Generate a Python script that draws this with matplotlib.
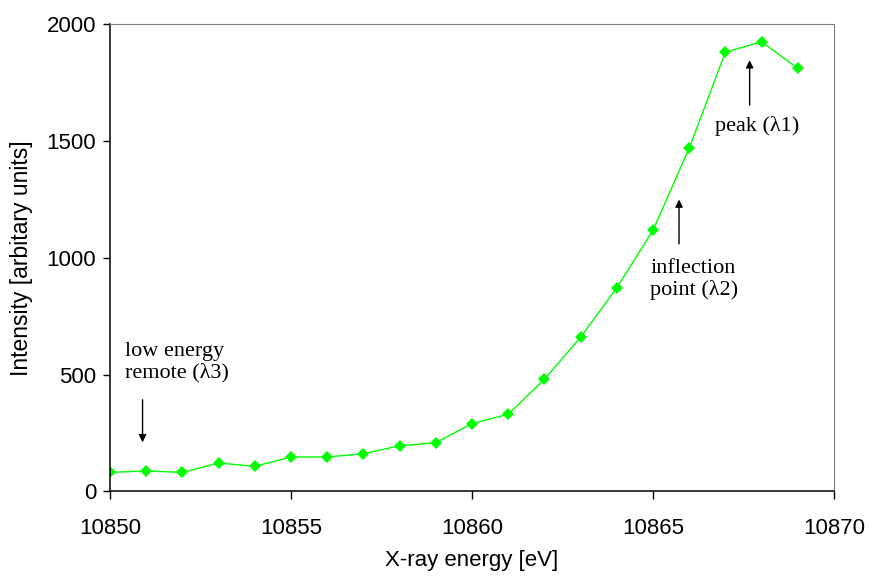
import matplotlib.pyplot as plt

# XANES edge scan: intensity vs. X-ray energy
energy = list(range(10850, 10870))
intensity = [81, 87, 81, 121, 107, 147, 147, 161, 195, 208,
             290, 330, 480, 660, 872, 1118, 1470, 1881, 1926, 1812]

x_ticks = [10850, 10855, 10860, 10865, 10870]
y_ticks = [0, 500, 1000, 1500, 2000]

SANS = ['Liberation Sans', 'DejaVu Sans']
SERIF = ['Liberation Serif', 'DejaVu Serif']

fig = plt.figure(figsize=(8.7, 5.79), dpi=100)
ax = fig.add_axes([0.1264, 0.1515, 0.8322, 0.8062])

ax.plot(energy, intensity, color='#00ff00', linewidth=1.0,
        marker='D', markersize=6.5, markeredgewidth=0)

ax.set_xlim(10850, 10870)
ax.set_ylim(0, 2000)
ax.set_xticks(x_ticks)
ax.set_yticks(y_ticks)
ax.set_xticklabels([str(t) for t in x_ticks], family=SANS, fontsize=16)
ax.set_yticklabels([str(t) for t in y_ticks], family=SANS, fontsize=16)
ax.tick_params(axis='x', direction='out', length=6, width=1, pad=13)
ax.tick_params(axis='y', direction='out', length=5, width=1, pad=5)

ax.set_xlabel('X-ray energy [eV]', family=SANS, fontsize=16, labelpad=8)
ax.set_ylabel('Intensity [arbitary units]', family=SANS, fontsize=16.5, labelpad=10)

for side in ['top', 'right']:
    ax.spines[side].set_color('#808080')
for side in ['left', 'bottom']:
    ax.spines[side].set_color('black')
    ax.spines[side].set_linewidth(1.1)

arrow = dict(arrowstyle='-|>', color='black', lw=1.0, mutation_scale=11)

# low energy remote point
ax.annotate('', xy=(10850.9, 198), xytext=(10850.9, 404), arrowprops=arrow)
ax.text(10850.41, 640, 'low energy\nremote (\u03bb3)', family=SERIF, fontsize=16,
        ha='left', va='top', linespacing=1.15)

# inflection point
ax.annotate('', xy=(10865.72, 1262), xytext=(10865.72, 1048), arrowprops=arrow)
ax.text(10864.92, 995, 'inflection\npoint (\u03bb2)', family=SERIF, fontsize=16,
        ha='left', va='top', linespacing=1.15)

# peak
ax.annotate('', xy=(10867.67, 1859), xytext=(10867.67, 1642), arrowprops=arrow)
ax.text(10866.72, 1608, 'peak (\u03bb1)', family=SERIF, fontsize=16,
        ha='left', va='top')

fig.savefig('out.png', dpi=100)
